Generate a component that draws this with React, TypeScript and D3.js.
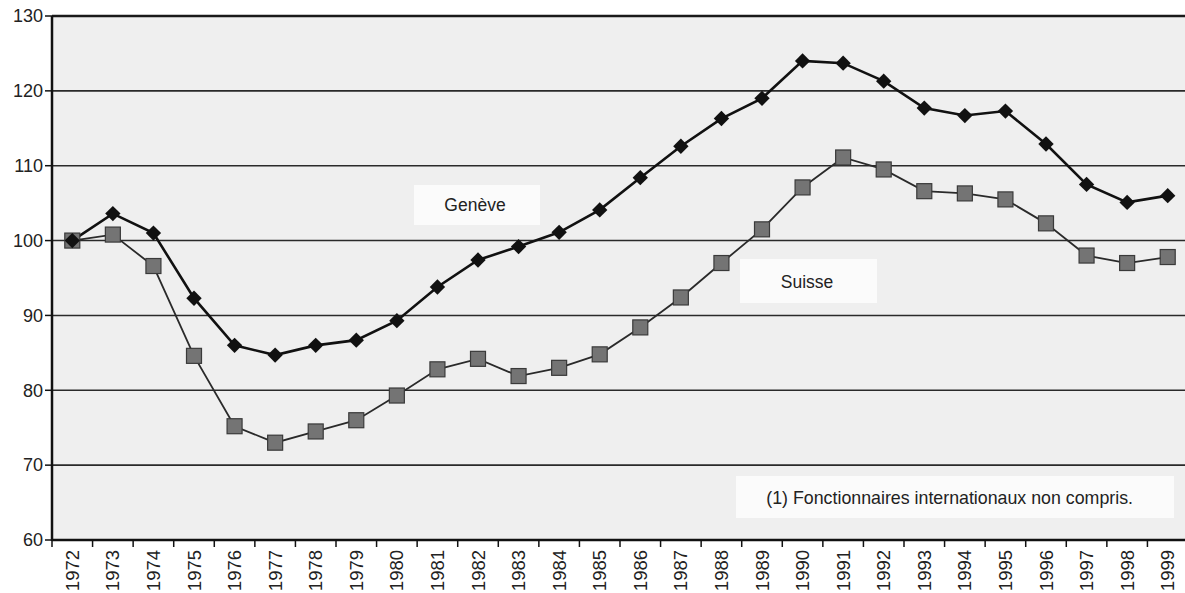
import React, { useEffect, useRef } from 'react';
import * as d3 from 'd3';

const years = [
  1972, 1973, 1974, 1975, 1976, 1977, 1978, 1979, 1980, 1981, 1982, 1983, 1984, 1985,
  1986, 1987, 1988, 1989, 1990, 1991, 1992, 1993, 1994, 1995, 1996, 1997, 1998, 1999,
];

const geneve = [
  100, 103.6, 101, 92.3, 86, 84.7, 86, 86.7, 89.3, 93.8, 97.4, 99.2, 101.1, 104.1,
  108.4, 112.6, 116.3, 119, 124, 123.7, 121.3, 117.7, 116.7, 117.3, 112.9, 107.5, 105.1, 106,
];

const suisse = [
  100, 100.8, 96.6, 84.6, 75.2, 73, 74.5, 76, 79.3, 82.8, 84.2, 81.9, 83, 84.8,
  88.4, 92.4, 97, 101.5, 107.1, 111.1, 109.5, 106.6, 106.3, 105.5, 102.3, 98, 97, 97.8,
];

const yTicks = [60, 70, 80, 90, 100, 110, 120, 130];

const W = 1185;
const H = 593;

const App: React.FC = () => {
  const svgRef = useRef<SVGSVGElement>(null);

  useEffect(() => {
    if (!svgRef.current) return;
    const svg = d3.select(svgRef.current);
    svg.selectAll('*').remove();

    const left = 52;
    const right = 1188;
    const top = 16;
    const bottom = 540;
    const font = 'Liberation Sans, Arial, sans-serif';

    const x = d3.scaleBand<number>().domain(years).range([left, right]).padding(0);
    const cx = (yr: number) => (x(yr) || 0) + x.bandwidth() / 2;
    const y = d3.scaleLinear().domain([60, 130]).range([bottom, top]);

    // plot background
    svg.append('rect')
      .attr('x', left).attr('y', top)
      .attr('width', right - left).attr('height', bottom - top)
      .attr('fill', '#efefef');

    // gridlines
    svg.append('g')
      .selectAll('line')
      .data(yTicks.filter(t => t > 60 && t < 130))
      .enter()
      .append('line')
      .attr('x1', left).attr('x2', right)
      .attr('y1', d => y(d)).attr('y2', d => y(d))
      .attr('stroke', '#2a2a2a')
      .attr('stroke-width', 1.6);

    // white boxes behind labels
    const boxes = [
      { x: 414, y: 185, w: 126, h: 40 },
      { x: 740, y: 259, w: 137, h: 44 },
      { x: 736, y: 476, w: 438, h: 42 },
    ];
    svg.append('g')
      .selectAll('rect')
      .data(boxes)
      .enter()
      .append('rect')
      .attr('x', d => d.x).attr('y', d => d.y)
      .attr('width', d => d.w).attr('height', d => d.h)
      .attr('fill', '#fbfbfb');

    // top frame
    svg.append('line')
      .attr('x1', left).attr('x2', right).attr('y1', top).attr('y2', top)
      .attr('stroke', '#1a1a1a').attr('stroke-width', 2.5);

    // x axis
    const xAxis = svg.append('g')
      .attr('transform', `translate(0,${bottom})`);
    xAxis.append('line')
      .attr('x1', left).attr('x2', right)
      .attr('stroke', '#111').attr('stroke-width', 2.5);
    xAxis.selectAll('line.tick')
      .data(years)
      .enter()
      .append('line')
      .attr('class', 'tick')
      .attr('x1', d => x(d) || 0).attr('x2', d => x(d) || 0)
      .attr('y1', 0).attr('y2', 7)
      .attr('stroke', '#111').attr('stroke-width', 1.5);
    xAxis.selectAll('text')
      .data(years)
      .enter()
      .append('text')
      .attr('transform', d => `translate(${cx(d) + 6.5},10) rotate(-90)`)
      .attr('text-anchor', 'end')
      .attr('font-family', font)
      .attr('font-size', 18.5)
      .attr('fill', '#222')
      .text(d => String(d));

    // y axis
    const yAxis = svg.append('g')
      .attr('transform', `translate(${left},0)`);
    yAxis.append('line')
      .attr('y1', top).attr('y2', bottom + 1)
      .attr('stroke', '#111').attr('stroke-width', 2.5);
    yAxis.selectAll('line.tick')
      .data(yTicks)
      .enter()
      .append('line')
      .attr('class', 'tick')
      .attr('x1', -7).attr('x2', 0)
      .attr('y1', d => y(d)).attr('y2', d => y(d))
      .attr('stroke', '#111').attr('stroke-width', 1.5);
    yAxis.selectAll('text')
      .data(yTicks)
      .enter()
      .append('text')
      .attr('x', -9)
      .attr('y', d => y(d))
      .attr('dy', '0.35em')
      .attr('text-anchor', 'end')
      .attr('font-family', font)
      .attr('font-size', 18)
      .attr('fill', '#222')
      .text(d => String(d));

    // lines
    const line = d3.line<number>()
      .x((_d, i) => cx(years[i]))
      .y(d => y(d));

    svg.append('path')
      .datum(suisse)
      .attr('d', line)
      .attr('fill', 'none')
      .attr('stroke', '#2a2a2a')
      .attr('stroke-width', 1.8);

    svg.append('path')
      .datum(geneve)
      .attr('d', line)
      .attr('fill', 'none')
      .attr('stroke', '#111')
      .attr('stroke-width', 2.6);

    // square markers (Suisse)
    svg.append('g')
      .selectAll('rect')
      .data(suisse)
      .enter()
      .append('rect')
      .attr('x', (_d, i) => cx(years[i]) - 7.5)
      .attr('y', d => y(d) - 7.5)
      .attr('width', 15).attr('height', 15)
      .attr('fill', '#747474')
      .attr('stroke', '#3a3a3a')
      .attr('stroke-width', 1.2);

    // diamond markers (Genève)
    const diamond = d3.symbol().type(d3.symbolSquare).size(118);
    svg.append('g')
      .selectAll('path')
      .data(geneve)
      .enter()
      .append('path')
      .attr('d', diamond)
      .attr('transform', (d, i) => `translate(${cx(years[i])},${y(d)}) rotate(45)`)
      .attr('fill', '#111');

    // labels
    const labels = [
      { text: 'Genève', x: 475, y: 205, anchor: 'middle', size: 17.5 },
      { text: 'Suisse', x: 807, y: 282, anchor: 'middle', size: 17.5 },
      { text: '(1) Fonctionnaires internationaux non compris.', x: 1133, y: 498, anchor: 'end', size: 17.8 },
    ];
    svg.append('g')
      .selectAll('text')
      .data(labels)
      .enter()
      .append('text')
      .attr('x', d => d.x).attr('y', d => d.y)
      .attr('dy', '0.35em')
      .attr('text-anchor', d => d.anchor)
      .attr('font-family', font)
      .attr('font-size', d => d.size)
      .attr('fill', '#222')
      .text(d => d.text);
  }, []);

  return (
    <svg
      ref={svgRef}
      width={W}
      height={H}
      style={{ display: 'block', position: 'absolute', left: 0, top: 0, background: '#fff' }}
    />
  );
};

export default App;
